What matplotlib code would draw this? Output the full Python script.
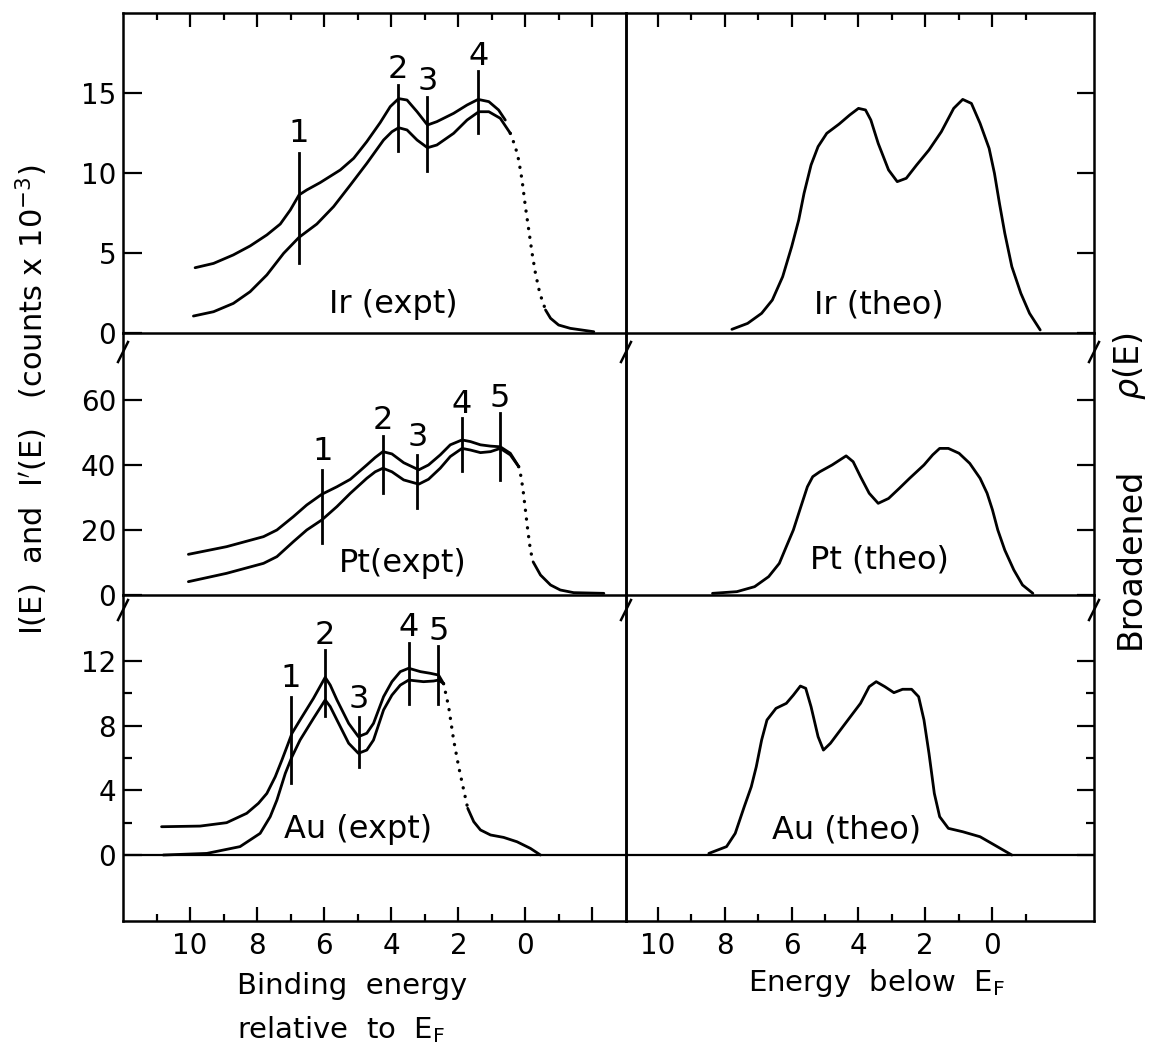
import matplotlib
matplotlib.use('Agg')
import matplotlib.pyplot as plt
from matplotlib.lines import Line2D

# ---------------- data ----------------
# Experimental spectra: binding energy (eV) vs counts x 10^-3
ir_up_x = [9.85, 9.30, 8.71, 8.21, 7.71, 7.31, 7.01, 6.75, 6.52, 6.12, 5.52, 5.12, 4.73, 4.33, 4.03,
           3.78, 3.53, 3.23, 2.92, 2.64, 2.14, 1.74, 1.41, 1.09, 0.80, 0.60]
ir_up_y = [4.08, 4.35, 4.88, 5.44, 6.13, 6.81, 7.69, 8.63, 8.94, 9.40, 10.19, 10.92, 11.96, 13.15, 14.15,
           14.65, 14.56, 13.83, 13.0, 13.21, 13.73, 14.25, 14.6, 14.46, 13.94, 13.31]
ir_lo_x = [9.90, 9.30, 8.71, 8.21, 7.71, 7.21, 6.75, 6.22, 5.72, 5.22, 4.73, 4.23, 3.98, 3.78, 3.53,
           3.23, 2.92, 2.64, 2.14, 1.74, 1.39, 1.09, 0.75, 0.45]
ir_lo_y = [1.06, 1.33, 1.85, 2.58, 3.63, 4.98, 5.98, 6.81, 7.90, 9.25, 10.6, 12.06, 12.58, 12.83, 12.69,
           12.06, 11.58, 11.75, 12.48, 13.31, 13.83, 13.83, 13.42, 12.48]
ir_dot_x = [0.45, 0.30, 0.20, 0.10, 0.0, -0.10, -0.20, -0.30, -0.43, -0.60]
ir_dot_y = [12.48, 11.64, 10.81, 9.56, 7.90, 6.44, 4.98, 3.73, 2.48, 1.44]
ir_tail_x = [-0.60, -0.75, -0.99, -1.34, -2.04]
ir_tail_y = [1.44, 0.92, 0.50, 0.29, 0.08]

pt_up_x = [10.05, 8.91, 7.81, 7.41, 6.92, 6.52, 6.07, 5.62, 5.22, 4.73, 4.48, 4.25, 3.98, 3.63, 3.18,
           2.89, 2.54, 2.24, 1.89, 1.64, 1.34, 1.04, 0.75, 0.45, 0.20]
pt_up_y = [12.51, 14.87, 17.95, 20.0, 24.1, 27.7, 31.0, 33.3, 35.6, 40.0, 42.3, 44.1, 43.4, 40.7, 38.5,
           40.0, 43.1, 46.2, 47.7, 47.2, 46.2, 45.8, 45.6, 43.6, 39.5]
pt_lo_x = [10.05, 8.91, 7.81, 7.41, 6.92, 6.52, 6.07, 5.62, 5.22, 4.73, 4.48, 4.25, 3.98, 3.63, 3.18,
           2.89, 2.54, 2.24, 1.89, 1.64, 1.34, 1.04, 0.75, 0.45, 0.20]
pt_lo_y = [4.10, 6.67, 9.74, 11.8, 16.4, 20.0, 23.1, 27.2, 31.3, 35.9, 37.9, 39.0, 37.9, 35.4, 34.1,
           35.6, 39.0, 42.6, 45.1, 44.6, 43.8, 44.1, 45.1, 43.1, 39.5]
pt_dot_x = [0.20, 0.13, 0.07, 0.0, -0.07, -0.15, -0.23]
pt_dot_y = [39.5, 36.4, 32.3, 26.2, 20.0, 13.8, 10.2]
pt_tail_x = [-0.23, -0.45, -0.75, -1.04, -1.44, -2.34]
pt_tail_y = [10.2, 6.15, 3.08, 1.54, 0.72, 0.51]

au_up_x = [10.85, 9.70, 8.91, 8.31, 7.96, 7.71, 7.46, 7.26, 7.11, 6.96, 6.72, 6.32, 5.97, 5.82, 5.62,
           5.27, 4.98, 4.73, 4.53, 4.23, 3.98, 3.73, 3.48, 3.13, 2.84, 2.59, 2.44]
au_up_y = [1.75, 1.79, 2.0, 2.58, 3.2, 3.81, 4.84, 5.88, 6.70, 7.53, 8.35, 9.69, 10.99, 10.51, 9.59,
           8.14, 7.32, 7.53, 8.14, 9.79, 10.72, 11.34, 11.55, 11.34, 11.24, 11.13, 10.6]
au_lo_x = [10.80, 9.50, 8.51, 7.91, 7.61, 7.41, 7.16, 6.96, 6.72, 6.32, 5.97, 5.82, 5.62, 5.27, 4.98,
           4.73, 4.53, 4.23, 3.98, 3.73, 3.48, 3.04, 2.74, 2.59, 2.44]
au_lo_y = [0.0, 0.10, 0.52, 1.34, 2.37, 3.40, 5.05, 6.08, 7.11, 8.45, 9.59, 9.18, 8.35, 6.91, 6.29,
           6.49, 7.11, 8.97, 9.89, 10.51, 10.82, 10.72, 10.76, 10.82, 10.6]
au_dot_x = [2.44, 2.29, 2.14, 1.99, 1.84, 1.72]
au_dot_y = [10.6, 9.18, 7.11, 5.46, 4.02, 2.89]
au_tail_x = [1.72, 1.54, 1.34, 1.04, 0.65, 0.25, -0.15, -0.45]
au_tail_y = [2.89, 2.06, 1.55, 1.24, 1.09, 0.82, 0.41, 0.0]

# Theoretical broadened density of states: energy below E_F
ir_th_x = [7.79, 7.32, 6.90, 6.58, 6.27, 6.0, 5.79, 5.63, 5.42, 5.21, 4.95, 4.58, 4.26, 4.0, 3.79, 3.63,
           3.41, 3.10, 2.84, 2.57, 2.26, 1.89, 1.52, 1.15, 0.88, 0.62, 0.36, 0.09, -0.07, -0.22, -0.38,
           -0.59, -0.86, -1.12, -1.44]
ir_th_y = [0.23, 0.60, 1.23, 2.06, 3.52, 5.40, 7.06, 8.73, 10.5, 11.65, 12.48, 13.06, 13.63, 14.04, 13.94,
           13.31, 11.85, 10.19, 9.46, 9.67, 10.5, 11.44, 12.58, 14.04, 14.6, 14.35, 13.1, 11.54, 9.98,
           8.1, 6.23, 4.15, 2.48, 1.23, 0.19]
pt_th_x = [8.37, 7.64, 7.11, 6.69, 6.37, 6.16, 5.95, 5.74, 5.53, 5.37, 5.16, 4.79, 4.37, 4.16, 3.94, 3.68,
           3.41, 3.10, 2.78, 2.47, 2.04, 1.78, 1.57, 1.31, 0.99, 0.67, 0.36, 0.15, -0.01, -0.17, -0.38,
           -0.65, -0.91, -1.22]
pt_th_y = [0.51, 1.03, 2.56, 5.64, 9.74, 14.9, 20.0, 26.7, 33.3, 36.4, 37.9, 40.0, 42.8, 41.0, 36.4, 31.3,
           28.2, 29.7, 32.8, 35.9, 40.0, 43.1, 45.1, 45.1, 43.6, 40.5, 35.9, 31.3, 26.2, 20.0, 13.8,
           7.7, 3.08, 0.51]
au_th_x = [8.48, 7.95, 7.69, 7.42, 7.21, 7.06, 6.90, 6.74, 6.47, 6.16, 5.95, 5.74, 5.58, 5.42, 5.21, 5.05,
           4.84, 4.47, 3.94, 3.68, 3.47, 3.21, 2.94, 2.68, 2.41, 2.20, 2.04, 1.89, 1.73, 1.57, 1.31,
           0.88, 0.36, -0.07, -0.59]
au_th_y = [0.10, 0.52, 1.34, 2.99, 4.22, 5.46, 7.11, 8.35, 9.07, 9.38, 9.89, 10.45, 10.31, 9.17, 7.32, 6.49,
           6.91, 7.93, 9.38, 10.41, 10.72, 10.41, 10.04, 10.25, 10.25, 9.79, 8.35, 6.29, 3.81, 2.37, 1.65,
           1.44, 1.13, 0.62, 0.0]

# Feature markers (numbered vertical bars)
ir_mk_x = [6.75, 3.79, 2.92, 1.40]
ir_mk_lo = [4.4, 11.4, 10.1, 12.5]
ir_mk_hi = [11.25, 15.5, 14.75, 16.4]
ir_mk_ty = [12.5, 16.5, 15.7, 17.3]
pt_mk_x = [6.06, 4.24, 3.22, 1.9, 0.77]
pt_mk_lo = [16.0, 31.4, 26.8, 38.0, 35.4]
pt_mk_hi = [38.5, 49.0, 43.0, 54.5, 56.0]
pt_mk_ty = [44.0, 53.8, 48.3, 58.5, 60.6]
au_mk_x = [7.0, 5.97, 4.97, 3.47, 2.6]
au_mk_lo = [4.45, 8.6, 5.45, 9.35, 9.35]
au_mk_hi = [9.8, 12.7, 8.55, 13.1, 12.9]
au_mk_ty = [10.9, 13.6, 9.6, 14.1, 13.8]

x_ticklabels = ['10', '8', '6', '4', '2', '0']
ir_yticks = [0, 5, 10, 15]
pt_yticks = [0, 20, 40, 60]
au_yticks = [0, 4, 8, 12]
au_yminor = [2, 6, 10]

# ---------------- figure ----------------
W, H = 1161, 1049
fig = plt.figure(figsize=(W / 100, H / 100), dpi=100)
plt.rcParams['font.family'] = ['DejaVu Sans']

XL, XM, XR = 123, 626, 1094
Y0, Y1, Y2, Y3 = 13, 333, 595, 921


def add(px0, px1, pyt, pyb):
    ax = fig.add_axes([px0 / W, 1 - pyb / H, (px1 - px0) / W, (pyb - pyt) / H])
    ax.set_facecolor('none')
    for s in ax.spines.values():
        s.set_linewidth(1.8)
    return ax


LW = 2.0
TICKFS = 20

axes_left = [add(XL, XM, Y0, Y1), add(XL, XM, Y1, Y2), add(XL, XM, Y2, Y3)]
axes_right = [add(XM, XR, Y0, Y1), add(XM, XR, Y1, Y2), add(XM, XR, Y2, Y3)]
ylims = [(0, 20), (0, 80.6), (-4.08, 16.08)]

for i, ax in enumerate(axes_left + axes_right):
    row = i % 3
    right = i >= 3
    ax.set_ylim(*ylims[row])
    if right:
        ax.set_xlim(10.96, -3.05)
        ax.set_xticks([10, 8, 6, 4, 2, 0])
        ax.set_xticks([9, 7, 5, 3, 1, -1], minor=True)
    else:
        ax.set_xlim(12.0, -3.0)
        ax.set_xticks([10, 8, 6, 4, 2, 0, -2])
        ax.set_xticks([11, 9, 7, 5, 3, 1, -1], minor=True)
    if row == 0:
        ax.xaxis.set_ticks_position('top')
        ax.tick_params(axis='x', which='both', labeltop=False, labelbottom=False)
    elif row == 2:
        ax.xaxis.set_ticks_position('bottom')
        ax.set_xticklabels(x_ticklabels + ([] if right else ['']))
        ax.tick_params(axis='x', which='both', labelsize=TICKFS, pad=8)
    else:
        ax.tick_params(axis='x', which='both', bottom=False, top=False,
                       labelbottom=False, labeltop=False)
    ax.tick_params(axis='x', which='major', direction='in', length=10, width=1.6)
    ax.tick_params(axis='x', which='minor', direction='in', length=5, width=1.6)
    if row > 0:
        ax.spines['top'].set_visible(False)

    yt = [ir_yticks, pt_yticks, au_yticks][row]
    ax.set_yticks(yt)
    if row == 2:
        ax.set_yticks(au_yminor, minor=True)
    if right:
        ax.yaxis.set_ticks_position('right')
        ax.tick_params(axis='y', which='both', labelright=False, labelleft=False)
        ax.tick_params(axis='y', which='major', direction='in', length=12.5, width=1.6)
        ax.tick_params(axis='y', which='minor', direction='in', length=6, width=1.6)
    else:
        ax.yaxis.set_ticks_position('left')
        ax.tick_params(axis='y', which='major', direction='in', length=13.5, width=1.6,
                       labelsize=TICKFS, pad=5)
        ax.tick_params(axis='y', which='minor', direction='in', length=6.5, width=1.6)

# zero line in Au panels
for ax in (axes_left[2], axes_right[2]):
    ax.axhline(0, color='k', lw=1.6)

dot_style = dict(color='k', lw=2.4, linestyle=(0, (0.05, 2.6)), dash_capstyle='round')
line_style = dict(color='k', lw=LW, solid_capstyle='round', solid_joinstyle='round')

exp_sets = [
    (axes_left[0], ir_up_x, ir_up_y, ir_lo_x, ir_lo_y, ir_dot_x, ir_dot_y, ir_tail_x, ir_tail_y),
    (axes_left[1], pt_up_x, pt_up_y, pt_lo_x, pt_lo_y, pt_dot_x, pt_dot_y, pt_tail_x, pt_tail_y),
    (axes_left[2], au_up_x, au_up_y, au_lo_x, au_lo_y, au_dot_x, au_dot_y, au_tail_x, au_tail_y),
]
for ax, ux, uy, lx, ly, dx, dy, tx, ty in exp_sets:
    ax.plot(ux, uy, **line_style)
    ax.plot(lx, ly, **line_style)
    ax.plot(dx, dy, **dot_style)
    ax.plot(tx, ty, **line_style)

MKFS = 23
for ax, mx, lo, hi, ty in [
    (axes_left[0], ir_mk_x, ir_mk_lo, ir_mk_hi, ir_mk_ty),
    (axes_left[1], pt_mk_x, pt_mk_lo, pt_mk_hi, pt_mk_ty),
    (axes_left[2], au_mk_x, au_mk_lo, au_mk_hi, au_mk_ty),
]:
    for k, (x, a, b, t) in enumerate(zip(mx, lo, hi, ty)):
        ax.plot([x, x], [a, b], color='k', lw=LW)
        ax.text(x, t, str(k + 1), ha='center', va='center', fontsize=MKFS)

for ax, tx, ty in [(axes_right[0], ir_th_x, ir_th_y),
                   (axes_right[1], pt_th_x, pt_th_y),
                   (axes_right[2], au_th_x, au_th_y)]:
    ax.plot(tx, ty, **line_style)

LBFS = 23
axes_left[0].text(3.94, 1.75, 'Ir (expt)', ha='center', va='center', fontsize=LBFS)
axes_left[1].text(3.67, 9.8, 'Pt(expt)', ha='center', va='center', fontsize=LBFS)
axes_left[2].text(5.0, 1.55, 'Au (expt)', ha='center', va='center', fontsize=LBFS)
axes_right[0].text(3.4, 1.75, 'Ir (theo)', ha='center', va='center', fontsize=LBFS)
axes_right[1].text(3.37, 10.8, 'Pt (theo)', ha='center', va='center', fontsize=LBFS)
axes_right[2].text(4.36, 1.55, 'Au (theo)', ha='center', va='center', fontsize=LBFS)

# axis break marks
for px in (XL, XM, XR):
    for py in (352, 610):
        fig.add_artist(Line2D([(px - 5) / W, (px + 5) / W], [1 - (py + 10) / H, 1 - (py - 10) / H],
                              color='k', lw=1.8, transform=fig.transFigure))

# axis titles
fig.text(32 / W, 1 - 400 / H, "I(E)  and  I$'$(E)   (counts x 10$^{-3}$)", rotation=90,
         ha='center', va='center', fontsize=22)
fig.text(1130 / W, 1 - 558 / H, "Broadened", rotation=90, ha='center', va='center', fontsize=24)
fig.text(1130 / W, 1 - 366 / H, "$\\rho$(E)", rotation=90, ha='center', va='center', fontsize=24)

XFS = 21
fig.text(237 / W, 1 - 986 / H, "Binding  energy", ha='left', va='center', fontsize=XFS)
fig.text(237 / W, 1 - 1030 / H, "relative  to  E$_\\mathregular{F}$", ha='left', va='center', fontsize=XFS)
fig.text(748 / W, 1 - 983 / H, "Energy  below  E$_\\mathregular{F}$", ha='left', va='center', fontsize=XFS)

fig.savefig('out.png', dpi=100)
